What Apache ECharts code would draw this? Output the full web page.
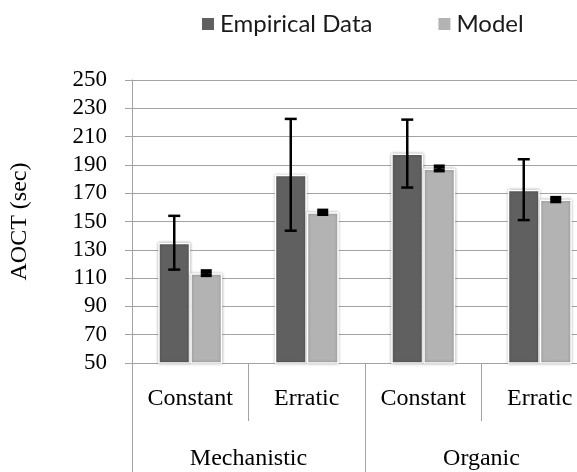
<!DOCTYPE html>
<html>
<head>
<meta charset="utf-8">
<script src="https://cdn.jsdelivr.net/npm/echarts@6/dist/echarts.min.js"></script>
<style>
html,body{margin:0;padding:0;background:#fff;overflow:hidden;width:577px;height:472px;}
#c{width:598px;height:472px;}
</style>
</head>
<body>
<div id="c"></div>
<script>
const subCategories = ['Constant', 'Erratic', 'Constant', 'Erratic'];
const groups = ['Mechanistic', 'Organic'];
const empirical = [135, 183, 198, 172.5];
const empiricalErr = [19, 39.5, 24, 21.5];
const model = [113.5, 156.5, 187.5, 165.5];
const modelErr = [1.4, 1.2, 1.4, 1.2];
const yTicks = {min: 50, max: 250, step: 20};

const chart = echarts.init(document.getElementById('c'), null, {renderer: 'canvas'});
const serif = 'Liberation Serif';
const gridColor = '#a3a3a3';

function errSeries(vals, errs, offset, capW, lw) {
  return {
    type: 'custom',
    xAxisIndex: 0,
    z: 10,
    data: vals.map((v, i) => [i, v, errs[i]]),
    encode: {x: 0, y: 1},
    renderItem: function (params, api) {
      const i = api.value(0), v = api.value(1), e = api.value(2);
      const top = api.coord([i, v + e]);
      const bot = api.coord([i, v - e]);
      const cx = top[0] + offset;
      const st = {stroke: '#000', lineWidth: lw};
      return {
        type: 'group',
        children: [
          {type: 'line', shape: {x1: cx, y1: top[1], x2: cx, y2: bot[1]}, style: st},
          {type: 'line', shape: {x1: cx - capW / 2, y1: top[1], x2: cx + capW / 2, y2: top[1]}, style: st},
          {type: 'line', shape: {x1: cx - capW / 2, y1: bot[1], x2: cx + capW / 2, y2: bot[1]}, style: st}
        ]
      };
    }
  };
}

const barStyle = (c) => ({
  color: c,
  borderColor: '#ffffff',
  borderWidth: 1.5,
  shadowBlur: 3,
  shadowColor: 'rgba(0,0,0,0.3)'
});

chart.setOption({
  animation: false,
  backgroundColor: '#fff',
  legend: {
    left: 200,
    top: 12,
    padding: 0,
    itemWidth: 14,
    itemHeight: 14,
    itemGap: 64,
    icon: 'rect',
    textStyle: {fontFamily: 'Lato', fontSize: 24, color: '#1a1a1a'},
    data: ['Empirical Data', 'Model']
  },
  grid: {left: 130, top: 80, right: 0, bottom: 109, containLabel: false},
  xAxis: [
    {
      type: 'category',
      data: subCategories,
      position: 'bottom',
      axisLine: {show: true, lineStyle: {color: gridColor, width: 1}},
      axisTick: {show: true, length: 58, lineStyle: {color: gridColor, width: 1}},
      axisLabel: {fontFamily: serif, fontSize: 24, color: '#000', margin: 24, interval: 0},
      splitLine: {show: false}
    },
    {
      type: 'category',
      data: groups,
      position: 'bottom',
      axisLine: {show: false},
      axisTick: {show: true, length: 120, lineStyle: {color: gridColor, width: 1}},
      axisLabel: {fontFamily: serif, fontSize: 24, color: '#000', margin: 84, interval: 0},
      splitLine: {show: false}
    }
  ],
  yAxis: {
    type: 'value',
    min: yTicks.min,
    max: yTicks.max,
    interval: yTicks.step,
    name: 'AOCT (sec)',
    nameLocation: 'middle',
    nameGap: 100,
    nameTextStyle: {fontFamily: serif, fontSize: 24, color: '#000'},
    axisLine: {show: true, lineStyle: {color: gridColor, width: 1}},
    axisTick: {show: true, length: 7, lineStyle: {color: gridColor, width: 1}},
    axisLabel: {fontFamily: serif, fontSize: 23, color: '#000', margin: 25},
    splitLine: {show: true, lineStyle: {color: gridColor, width: 1}}
  },
  series: [
    {
      name: 'Empirical Data',
      type: 'bar',
      xAxisIndex: 0,
      data: empirical,
      barWidth: 32,
      barGap: '0%',
      itemStyle: barStyle('#606060')
    },
    {
      name: 'Model',
      type: 'bar',
      xAxisIndex: 0,
      data: model,
      barWidth: 32,
      barGap: '0%',
      itemStyle: barStyle('#b3b3b3')
    },
    errSeries(empirical, empiricalErr, -16, 12, 2.5),
    errSeries(model, modelErr, 16, 11, 4)
  ]
});
</script>
</body>
</html>
